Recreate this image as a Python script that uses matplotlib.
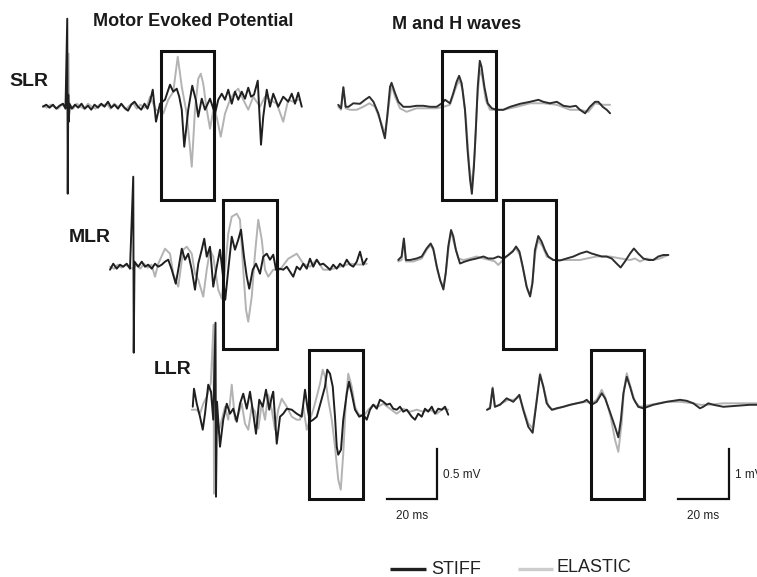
import numpy as np
import matplotlib
matplotlib.use("Agg")
import matplotlib.pyplot as plt
from matplotlib import font_manager
from matplotlib.patches import Rectangle

# EMG traces: (time in ms, amplitude in mV)
# Motor evoked potential, t = 0 at the stimulus artefact
slr_mep_stiff = [
    (-10, 0.0), (-8.7, 0.02), (-7.4, -0.01), (-6, 0.02), (-4.7, -0.02), (-3.4, 0.01), (-2, 0.03), (-1, -0.02),
    (-0.3, 0.88), (-0.1, -0.87), (0.1, 0.12), (0.3, -0.15), (0.6, 0.03), (1.5, -0.02), (2.8, 0.02), (4.1, -0.01),
    (5.4, 0.03), (6.7, -0.02), (8, 0.01), (9.3, -0.03), (10.6, 0.02), (12, -0.01), (13.3, 0.03), (14.6, 0.0),
    (16, 0.05), (17.3, -0.01), (18.6, 0.02), (20, -0.02), (21.3, 0.03), (22.6, -0.01), (24, -0.04), (25.3, 0.02),
    (26.6, 0.05), (28, 0.0), (29.3, -0.03), (30.6, 0.03), (31.8, -0.02), (32.8, 0.05), (33.9, 0.17), (35.2, -0.15),
    (36.8, 0.03), (38.8, 0.07), (40.8, 0.22), (42.1, 0.15), (43.5, 0.18), (44.5, 0.10), (45.5, -0.03), (46.5, -0.40),
    (48.1, -0.03), (49.7, 0.21), (51.1, 0.07), (52.1, -0.10), (53.5, 0.08), (54.8, -0.03), (56.8, 0.08), (58.8, -0.07),
    (60.1, 0.07), (61.5, 0.13), (62.8, 0.07), (64.1, 0.17), (65.5, 0.03), (66.8, 0.15), (68.1, 0.07), (69.5, 0.15),
    (70.8, 0.08), (72.1, 0.19), (73.2, 0.10), (74.4, 0.12), (75.9, 0.26), (77.2, -0.38), (78.1, -0.10), (79.5, 0.17),
    (80.8, 0.0), (82.1, 0.13), (84.1, 0.0), (86.1, 0.10), (88.1, 0.05), (89.5, 0.13), (90.8, 0.03), (92.1, 0.14),
    (93.5, 0.0),
]
slr_mep_elastic = [
    (-10, 0.01), (-8.5, -0.01), (-7, 0.02), (-5.5, 0.0), (-4, -0.02), (-2.5, 0.02), (-1, 0.0), (0.2, 0.53),
    (0.4, -0.1), (0.8, 0.02), (2, -0.02), (3.5, 0.03), (5, 0.0), (6.5, -0.02), (8, 0.03), (9.5, 0.0), (11, -0.02),
    (12.5, 0.02), (14, 0.01), (15.5, 0.03), (17, -0.02), (18.5, 0.03), (20, 0.0), (21.5, 0.02), (23, -0.03),
    (24.5, 0.01), (26, 0.04), (27.5, -0.02), (29, 0.02), (30.5, -0.01), (31.5, 0.0), (32.8, 0.10), (35.2, -0.03),
    (38.1, -0.07), (40.1, 0.07), (42.1, 0.15), (43.9, 0.50), (45.5, 0.20), (47.5, -0.07), (49.5, -0.60), (50.8, -0.03),
    (52.1, 0.28), (53.1, 0.33), (54.1, 0.23), (55.5, -0.03), (56.8, -0.22), (58.4, 0.0), (59.7, -0.13), (61.1, -0.30),
    (62.8, -0.07), (64.8, 0.07), (66.8, 0.15), (68.1, 0.18), (70.1, 0.07), (72.1, -0.03), (74.1, 0.10), (76.8, 0.0),
    (78.8, 0.10), (80.8, 0.07), (83.5, 0.03), (86.1, -0.15), (88.1, 0.07), (90.1, 0.05), (92.1, 0.07),
]
mlr_mep_stiff = [
    (-9.6, -0.03), (-8.3, 0.03), (-6.9, -0.02), (-5.6, 0.02), (-4.3, 0.0), (-2.9, 0.03), (-1.6, -0.02),
    (-0.3, 0.9), (-0.1, -0.86), (0.2, 0.05), (1.7, 0.0), (3.1, 0.05), (4.4, 0.0), (5.7, 0.02), (7.1, -0.02),
    (8.4, 0.03), (9.7, 0.0), (11.1, 0.02), (12.4, 0.05), (13.7, 0.07), (15.1, -0.03), (16.7, -0.17), (17.7, -0.03),
    (19.1, 0.18), (20.4, 0.07), (21.7, 0.13), (23.1, -0.03), (24.4, -0.23), (25.7, 0.03), (27.1, 0.17), (28.1, 0.28),
    (29.1, 0.10), (30.4, 0.20), (31.7, -0.20), (33.1, 0.0), (34.4, 0.17), (35.5, -0.07), (36.5, -0.33), (37.7, -0.03),
    (39.1, 0.30), (40.4, 0.17), (41.7, 0.27), (42.8, 0.37), (44.0, 0.10), (45.1, -0.10), (46.1, -0.22), (47.5, -0.03),
    (48.8, 0.03), (50.4, -0.07), (51.7, 0.10), (53.1, 0.13), (54.4, 0.07), (55.7, 0.12), (56.8, -0.03), (58.4, -0.02),
    (59.7, -0.03), (61.1, 0.0), (62.4, -0.05), (63.7, -0.10), (65.1, 0.0), (66.4, -0.03), (67.7, 0.03), (69.1, -0.02),
    (70.4, 0.08), (71.7, 0.0), (73.1, 0.07), (74.4, 0.02), (75.7, 0.03), (77.1, 0.0), (78.4, -0.03), (79.7, 0.02),
    (81.1, -0.02), (82.4, 0.03), (83.7, 0.0), (85.1, 0.07), (86.4, 0.02), (87.7, 0.0), (89.1, 0.05), (90.4, 0.15),
    (91.7, 0.02), (93.1, 0.08),
]
mlr_mep_elastic = [
    (-9.6, 0.0), (-8, -0.02), (-6.5, 0.02), (-5, -0.01), (-3.5, 0.02), (-2, 0.0), (-0.5, -0.02), (1, 0.02),
    (2.5, -0.02), (4, 0.03), (5.5, -0.01), (7, 0.02), (8.4, -0.10), (9.7, 0.03), (12.4, 0.18), (14.4, 0.13),
    (15.7, -0.07), (17.7, -0.20), (19.7, 0.17), (21.1, 0.20), (23.1, 0.13), (24.4, -0.07), (25.7, -0.13),
    (27.7, -0.30), (29.1, -0.03), (30.4, 0.17), (31.7, 0.10), (33.7, -0.23), (35.1, -0.32), (36.4, -0.03),
    (37.7, 0.33), (39.1, 0.50), (41.1, 0.53), (42.4, 0.47), (43.7, -0.03), (44.8, -0.43), (45.7, -0.55),
    (47.1, -0.30), (48.4, 0.13), (49.7, 0.47), (51.1, 0.27), (52.4, -0.03), (53.7, -0.10), (55.7, -0.03),
    (58.4, -0.03), (61.7, 0.08), (65.1, 0.13), (67.7, 0.03), (70.4, 0.0), (73.1, 0.07), (75.7, -0.03),
    (78.4, -0.03), (82.4, 0.0), (86.4, 0.03), (90.4, 0.02), (93.1, 0.03),
]
llr_mep_stiff = [
    (-9.3, 0.05), (-8.8, 0.23), (-7.7, 0.08), (-6.4, -0.05), (-5.3, -0.18), (-4.4, -0.02), (-3.1, 0.27),
    (-2.0, 0.20), (-1.1, -0.08), (-0.2, 0.89), (0.0, -0.85), (0.4, 0.1), (1.6, -0.35), (2.9, -0.08), (4.3, 0.08),
    (5.6, -0.02), (6.9, 0.03), (8.3, -0.10), (9.6, 0.08), (10.9, 0.18), (12.3, 0.03), (13.6, 0.20), (14.9, -0.02),
    (16.0, -0.22), (17.3, 0.12), (18.7, 0.05), (20.0, 0.22), (21.3, 0.02), (22.3, 0.15), (22.9, 0.20),
    (24.3, -0.32), (25.6, -0.05), (26.9, -0.02), (28.3, 0.03), (30.3, 0.02), (32.3, -0.02), (34.3, -0.05),
    (35.6, 0.22), (36.7, 0.02), (37.6, -0.10), (38.9, -0.08), (40.3, -0.05), (42.3, 0.13), (43.6, 0.25),
    (44.5, 0.42), (45.6, 0.38), (46.7, 0.25), (47.6, -0.05), (48.3, -0.35), (48.9, -0.43), (50.0, -0.38),
    (50.9, -0.08), (52.3, 0.18), (53.2, 0.30), (54.3, 0.18), (55.6, 0.02), (57.3, -0.05), (58.9, -0.03),
    (60.3, -0.08), (61.6, 0.02), (62.9, 0.07), (64.3, 0.03), (65.6, 0.12), (66.9, 0.10), (68.3, 0.07), (69.6, 0.08),
    (70.9, 0.03), (72.3, 0.02), (73.6, 0.05), (74.9, 0.0), (76.3, 0.02), (78.3, -0.05), (79.6, -0.08), (80.9, -0.02),
    (82.3, -0.05), (83.6, 0.03), (84.9, 0.0), (86.3, 0.05), (87.6, -0.02), (88.9, 0.03), (90.3, 0.02), (91.6, 0.05),
    (92.9, -0.03),
]
llr_mep_elastic = [
    (-9.7, 0.02), (-7.7, 0.02), (-6.4, -0.02), (-5.1, 0.08), (-3.7, 0.15), (-2.1, 0.28), (-1.0, 0.87),
    (-0.8, -0.82), (-0.4, 0.0), (0.9, -0.22), (2.3, -0.08), (3.6, 0.05), (4.9, -0.08), (6.3, 0.27), (7.6, -0.08),
    (8.9, -0.03), (10.3, 0.08), (11.6, -0.12), (12.9, -0.18), (14.3, 0.05), (15.6, 0.0), (16.9, -0.17), (18.3, 0.08),
    (19.6, -0.08), (20.9, 0.17), (22.3, 0.02), (23.6, -0.18), (24.9, 0.02), (26.3, 0.13), (28.3, 0.05),
    (30.3, -0.05), (32.3, -0.08), (33.6, -0.08), (34.9, 0.05), (36.3, -0.18), (37.6, -0.08), (38.9, 0.02),
    (40.3, 0.15), (41.6, 0.28), (42.7, 0.42), (43.6, 0.35), (44.9, 0.12), (46.3, -0.08), (47.6, -0.35),
    (48.9, -0.68), (49.9, -0.78), (50.9, -0.42), (51.9, 0.08), (52.9, 0.38), (54.3, 0.25), (55.6, 0.05),
    (56.9, -0.02), (58.9, -0.05), (60.9, 0.02), (62.9, 0.07), (64.9, 0.05), (66.9, 0.08), (69.6, 0.03),
    (72.3, -0.02), (74.9, 0.03), (77.6, 0.0), (80.3, 0.02), (82.9, 0.0), (85.6, 0.02), (88.3, -0.02), (90.9, 0.03),
    (92.9, 0.02),
]

# M and H waves, t = 0 at the start of the sweep
slr_mh_stiff = [
    (0.1, 0.05), (1.2, -0.02), (2.1, 0.40), (3.0, 0.01), (4.1, 0.01), (6.0, 0.08), (8.6, 0.07), (10.6, 0.15),
    (12.3, 0.21), (13.9, 0.11), (15.8, -0.12), (17.5, -0.45), (18.4, -0.62), (19.3, -0.19), (20.4, 0.41),
    (21.0, 0.49), (22.4, 0.28), (23.7, 0.11), (25.6, 0.01), (28.2, 0.01), (30.8, 0.03), (33.5, 0.03), (36.1, 0.01),
    (38.7, 0.01), (40.7, 0.08), (42.0, 0.15), (43.9, 0.08), (45.2, 0.28), (46.5, 0.51), (47.5, 0.63), (48.5, 0.48),
    (49.8, -0.05), (50.8, -0.85), (51.8, -1.45), (52.5, -1.73), (53.3, -1.19), (54.1, -0.39), (54.8, 0.41),
    (55.6, 0.93), (56.3, 0.81), (57.4, 0.41), (58.7, 0.08), (60.3, -0.02), (62.2, -0.05), (64.8, -0.05),
    (67.5, 0.01), (71.4, 0.07), (75.3, 0.11), (78.6, 0.15), (80.5, 0.11), (83.1, 0.08), (85.8, 0.11), (88.4, 0.03),
    (91.0, 0.01), (93.3, 0.03), (94.9, -0.05), (96.9, -0.12), (98.8, 0.01), (100.8, 0.11), (102.1, 0.11),
    (103.8, 0.01), (105.4, -0.05), (106.7, -0.12),
]
slr_mh_elastic = [
    (0.1, 0.01), (1.2, -0.05), (2.1, 0.40), (3.0, -0.02), (4.7, -0.05), (7.3, -0.05), (9.9, 0.01), (12.3, 0.08),
    (14.5, 0.01), (16.5, -0.25), (18.4, -0.52), (19.7, -0.05), (21.0, 0.45), (22.4, 0.21), (24.3, -0.02),
    (26.9, -0.09), (30.8, -0.02), (34.8, -0.02), (38.7, -0.02), (41.3, 0.01), (43.9, 0.05), (45.9, 0.35),
    (47.5, 0.55), (48.9, 0.35), (50.2, -0.25), (51.5, -1.19), (52.5, -1.59), (53.6, -0.92), (54.6, 0.15),
    (55.6, 0.75), (56.6, 0.61), (57.9, 0.15), (59.6, -0.05), (64.8, -0.05), (70.1, 0.01), (75.3, 0.08),
    (80.5, 0.08), (85.8, 0.05), (91.0, -0.05), (94.9, -0.05), (98.2, -0.09), (100.8, 0.08), (104.1, 0.05),
    (106.7, 0.05),
]
mlr_mh_stiff = [
    (0.5, 0.0), (1.8, 0.07), (2.7, 0.43), (3.5, 0.0), (5.1, 0.0), (7.7, 0.03), (9.7, 0.07), (11.6, 0.23),
    (13.2, 0.33), (14.2, 0.23), (15.6, -0.13), (16.9, -0.40), (18.2, -0.59), (19.1, -0.27), (20.1, 0.27),
    (21.2, 0.60), (22.1, 0.47), (23.1, 0.20), (24.7, -0.07), (26.7, -0.03), (28.6, 0.0), (31.2, 0.03), (33.9, 0.07),
    (35.8, 0.03), (37.8, 0.03), (39.7, 0.07), (41.7, 0.03), (43.7, 0.10), (45.4, 0.17), (46.7, 0.27), (48.0, 0.17),
    (49.3, -0.13), (50.8, -0.53), (52.2, -0.73), (53.1, -0.47), (54.1, 0.20), (55.4, 0.48), (56.7, 0.37),
    (58.0, 0.20), (59.3, 0.07), (61.3, 0.0), (63.9, -0.01), (66.5, 0.03), (69.2, 0.07), (71.8, 0.13), (74.4, 0.17),
    (76.3, 0.13), (78.3, 0.10), (80.3, 0.07), (82.2, 0.07), (84.2, 0.03), (86.1, -0.07), (87.7, -0.15),
    (89.4, -0.03), (91.4, 0.13), (92.9, 0.23), (94.6, 0.13), (96.6, 0.03), (98.6, 0.0), (100.5, 0.0), (102.5, 0.07),
    (104.4, 0.10), (106.4, 0.10),
]
mlr_mh_elastic = [
    (0.5, -0.03), (1.8, 0.0), (2.7, 0.40), (3.5, -0.03), (6.4, -0.03), (9.7, 0.03), (11.6, 0.20), (13.2, 0.30),
    (14.5, 0.17), (15.8, -0.20), (17.1, -0.43), (18.2, -0.53), (19.2, -0.23), (20.3, 0.27), (21.2, 0.57),
    (22.4, 0.33), (24.1, 0.03), (26.0, 0.0), (28.6, 0.03), (31.2, 0.07), (33.9, 0.03), (36.5, 0.0), (38.4, -0.03),
    (39.7, -0.10), (41.0, -0.03), (43.0, 0.07), (45.0, 0.17), (46.7, 0.23), (48.2, 0.10), (49.8, -0.27),
    (51.2, -0.60), (52.2, -0.70), (53.2, -0.40), (54.2, 0.13), (55.4, 0.40), (57.1, 0.27), (58.7, 0.07),
    (61.3, 0.0), (66.5, 0.0), (71.8, 0.0), (74.4, 0.03), (78.3, 0.07), (83.5, 0.07), (87.7, 0.03), (91.4, 0.0),
    (93.3, 0.03), (95.3, -0.03), (97.9, 0.03), (100.5, 0.0), (103.1, 0.03), (106.4, 0.10),
]
llr_mh_stiff = [
    (0.0, -0.03), (1.2, 0.0), (2.2, 0.40), (3.1, 0.03), (5.1, 0.07), (7.7, 0.20), (10.3, 0.13), (12.7, 0.27),
    (14.2, -0.03), (16.2, -0.37), (17.9, -0.49), (19.2, 0.03), (20.8, 0.67), (22.1, 0.43), (23.4, 0.10),
    (25.4, -0.03), (27.3, 0.0), (29.9, 0.03), (32.5, 0.07), (35.2, 0.10), (37.8, 0.13), (39.1, 0.17), (41.0, 0.07),
    (43.0, 0.13), (45.0, 0.30), (46.3, 0.20), (48.2, -0.07), (50.2, -0.37), (51.5, -0.58), (52.5, -0.23),
    (53.5, 0.30), (54.8, 0.63), (56.1, 0.43), (57.4, 0.20), (59.3, 0.03), (61.3, 0.0), (65.2, 0.07), (70.5, 0.13),
    (75.7, 0.17), (78.3, 0.15), (80.9, 0.10), (83.5, 0.0), (84.8, 0.03), (86.8, 0.10), (88.8, 0.07), (92.7, 0.03),
    (97.9, 0.05), (103.1, 0.07), (105.8, 0.07),
]
llr_mh_elastic = [
    (0.0, -0.03), (1.2, 0.03), (2.2, 0.42), (3.1, 0.03), (5.8, 0.10), (8.4, 0.17), (10.6, 0.17), (12.7, 0.23),
    (14.2, 0.0), (16.2, -0.30), (17.9, -0.40), (19.2, 0.07), (20.8, 0.70), (22.4, 0.37), (24.1, 0.03),
    (26.0, -0.03), (29.9, 0.03), (35.2, 0.10), (39.1, 0.13), (41.0, 0.10), (43.0, 0.17), (45.0, 0.37), (46.5, 0.20),
    (48.5, -0.17), (50.2, -0.63), (51.5, -0.87), (52.8, -0.30), (53.7, 0.37), (54.8, 0.70), (56.3, 0.43),
    (58.0, 0.13), (60.0, 0.03), (63.9, 0.07), (70.5, 0.13), (75.7, 0.13), (80.9, 0.10), (83.5, 0.07), (86.8, 0.07),
    (92.7, 0.10), (99.3, 0.10), (105.8, 0.10),
]

# analysis windows (ms) and their amplitude span (mV), one per row
mep_windows = [(37.2, 58.4, 0.56, -0.93), (35.6, 57.2, 0.67, -0.82), (37.2, 58.8, 0.62, -0.87)]
mh_windows = [(40.8, 62.0, 1.13, -1.85), (41.6, 62.4, 1.2, -1.78), (40.8, 61.6, 1.17, -1.81)]
row_labels = ["SLR", "MLR", "LLR"]

# page layout in pixels
W, H = 757, 577
MEP_MS, MEP_MV = 2.5, 100.0
MH_MS, MH_MV = 2.55, 50.0
mep_origin = [(68, 106.7), (134, 266.7), (216, 411.7)]
mh_origin = [(338, 107.3), (397, 260.0), (487, 408.3)]
label_pos = [(9, 82), (69, 238), (154, 370)]

STIFF_C = "#1f1f1f"
ELASTIC_C = "#b3b3b3"

fig = plt.figure(figsize=(W / 100, H / 100), dpi=100)
ax = fig.add_axes([0, 0, 1, 1])
ax.set_xlim(0, W)
ax.set_ylim(H, 0)
ax.axis("off")


def trace(pairs, origin, ms_px, mv_px, color, lw, z):
    t = np.array([p[0] for p in pairs])
    v = np.array([p[1] for p in pairs])
    ax.plot(origin[0] + t * ms_px, origin[1] - v * mv_px, color=color, lw=lw,
            zorder=z, solid_joinstyle="round", solid_capstyle="round")


def window(win, origin, ms_px, mv_px):
    t0, t1, top, bot = win
    x0 = origin[0] + t0 * ms_px
    y0 = origin[1] - top * mv_px
    ax.add_patch(Rectangle((x0, y0), (t1 - t0) * ms_px, (top - bot) * mv_px,
                           fill=False, ec="#111111", lw=2.2, zorder=5))


mep_rows = [(slr_mep_stiff, slr_mep_elastic), (mlr_mep_stiff, mlr_mep_elastic), (llr_mep_stiff, llr_mep_elastic)]
mh_rows = [(slr_mh_stiff, slr_mh_elastic), (mlr_mh_stiff, mlr_mh_elastic), (llr_mh_stiff, llr_mh_elastic)]

for i in range(3):
    stiff, elastic = mep_rows[i]
    trace(elastic, mep_origin[i], MEP_MS, MEP_MV, ELASTIC_C, 1.4, 2)
    trace(stiff, mep_origin[i], MEP_MS, MEP_MV, STIFF_C, 1.4, 3)
    window(mep_windows[i], mep_origin[i], MEP_MS, MEP_MV)

    stiff, elastic = mh_rows[i]
    trace(elastic, mh_origin[i], MH_MS, MH_MV, ELASTIC_C, 1.4, 2)
    trace(stiff, mh_origin[i], MH_MS, MH_MV, "#2e2e2e", 1.4, 3)
    window(mh_windows[i], mh_origin[i], MH_MS, MH_MV)

    ax.text(label_pos[i][0], label_pos[i][1], row_labels[i], fontsize=14, fontweight="bold",
            family="Liberation Sans", color="#1a1a1a", ha="left", va="center")

ax.text(93, 22, "Motor Evoked Potential", fontsize=13, fontweight="bold", family="Liberation Sans",
        color="#1a1a1a", ha="left", va="center")
ax.text(392, 24.5, "M and H waves", fontsize=13, fontweight="bold", family="Liberation Sans",
        color="#1a1a1a", ha="left", va="center")

# scale bars
try:
    font_manager.findfont(font_manager.FontProperties(family="Liberation Sans Narrow"), fallback_to_default=False)
    small = dict(family="Liberation Sans Narrow", fontsize=10)
except ValueError:
    small = dict(family="Liberation Sans", fontsize=8.5)

for corner_x, ms_px, mv_px, amp, amp_lbl in [(437, MEP_MS, MEP_MV, 0.5, "0.5 mV"), (729, MH_MS, MH_MV, 1.0, "1 mV")]:
    corner_y = 499
    ax.plot([corner_x - 20 * ms_px, corner_x, corner_x], [corner_y, corner_y, corner_y - amp * mv_px],
            color="#111111", lw=1.6, solid_joinstyle="miter", zorder=4)
    ax.text(corner_x + 6, corner_y - 24, amp_lbl, ha="left", va="center", color="#222222", **small)
    ax.text(corner_x - 10 * ms_px, 516, "20 ms", ha="center", va="center", color="#222222", **small)

# legend
ax.plot([390, 426], [569, 569], color=STIFF_C, lw=2.4, solid_capstyle="butt")
ax.text(431, 569, "STIFF", fontsize=13, family="Liberation Sans", color="#222222", ha="left", va="center")
ax.plot([518, 553], [569, 569], color="#cccccc", lw=2.4, solid_capstyle="butt")
ax.text(556, 568, "ELASTIC", fontsize=13, family="Liberation Sans", color="#222222", ha="left", va="center")

fig.savefig("out.png", dpi=100, facecolor="white")
